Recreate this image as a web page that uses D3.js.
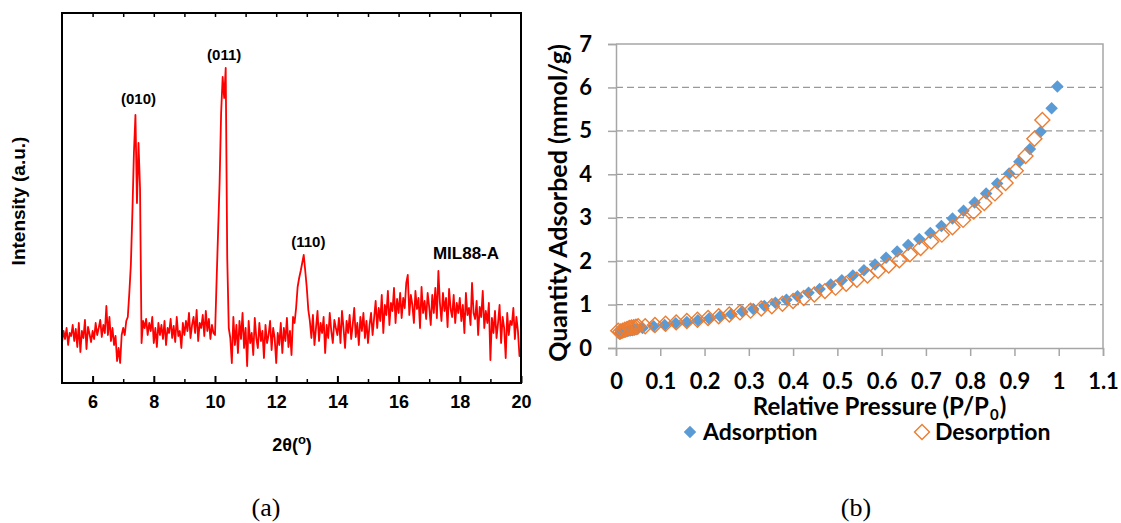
<!DOCTYPE html>
<html>
<head>
<meta charset="utf-8">
<script src="https://cdn.jsdelivr.net/npm/d3@7"></script>
<style>
  body { margin: 0; background: #fff; }
  svg { display: block; }
</style>
</head>
<body>
<svg id="chart" width="1121" height="523"></svg>
<script>
// ---- (a) XRD pattern, scan 5..20 deg, 0.05 deg steps ----
const xrdStart = 5;
const xrdStep = 0.05;
const xrdIntensity = [
    40, 52, 44, 55, 38, 50, 47, 58, 42, 54, 36, 60, 31, 52, 45, 63, 34, 56, 49, 41,
    52, 44, 60, 48, 55, 63, 46, 58, 50, 77, 48, 66, 42, 55, 38, 47, 22, 35, 20, 48,
    55, 48, 62, 66, 90, 118, 170, 230, 268, 180, 240, 195, 40, 62, 55, 64, 48, 60, 52, 66,
    40, 55, 36, 60, 48, 58, 44, 62, 38, 55, 50, 64, 45, 57, 41, 66, 47, 52, 35, 60,
    48, 62, 52, 70, 45, 58, 66, 50, 73, 42, 60, 55, 68, 47, 72, 52, 64, 44, 58, 50,
    48, 100, 150, 200, 270, 306, 285, 315, 125, 55, 45, 20, 66, 38, 58, 30, 62, 44, 70, 35,
    55, 17, 62, 40, 50, 28, 65, 45, 35, 60, 42, 52, 25, 58, 40, 48, 62, 33, 55, 45,
    20, 50, 38, 60, 30, 55, 42, 65, 36, 52, 28, 66, 60, 75, 96, 105, 112, 120, 128, 112,
    95, 73, 62, 45, 68, 38, 55, 72, 42, 60, 50, 66, 30, 58, 45, 70, 52, 40, 63, 55,
    48, 65, 40, 72, 55, 35, 62, 50, 68, 44, 58, 75, 46, 60, 38, 66, 52, 70, 45, 62,
    40, 58, 70, 48, 65, 82, 55, 75, 62, 88, 50, 78, 68, 92, 58, 80, 72, 95, 60, 84,
    70, 90, 65, 85, 75, 100, 108, 68, 88, 78, 60, 92, 74, 85, 55, 96, 70, 82, 64, 90,
    76, 58, 88, 70, 95, 65, 112, 80, 62, 90, 72, 85, 56, 94, 74, 66, 88, 60, 80, 70,
    85, 62, 78, 50, 90, 68, 75, 58, 100, 70, 64, 82, 48, 76, 66, 92, 55, 72, 60, 80,
    23, 65, 50, 72, 45, 60, 78, 40, 66, 55, 25, 70, 48, 62, 58, 75, 44, 66, 52, 27,
    30
];
const xrdTicks = [6, 8, 10, 12, 14, 16, 18, 20];
const peakNames = ["(010)", "(011)", "(110)"];
const peakAngles = [7.5, 10.3, 13.05];
const peakTops = [268, 315, 128];

// ---- (b) N2 isotherm ----
const adsP = [0.008, 0.012, 0.017, 0.022, 0.027, 0.032, 0.037, 0.042, 0.047, 0.06,
    0.085, 0.11, 0.135, 0.16, 0.185, 0.21, 0.235, 0.26, 0.285, 0.31,
    0.335, 0.36, 0.385, 0.41, 0.435, 0.46, 0.485, 0.51, 0.535, 0.56,
    0.585, 0.61, 0.635, 0.66, 0.685, 0.71, 0.735, 0.76, 0.785, 0.81,
    0.836, 0.861, 0.888, 0.911, 0.935, 0.959, 0.984, 0.997];
const adsQ = [0.33, 0.35, 0.37, 0.38, 0.39, 0.40, 0.41, 0.42, 0.43, 0.46,
    0.50, 0.53, 0.57, 0.60, 0.64, 0.68, 0.73, 0.78, 0.84, 0.90,
    0.97, 1.04, 1.11, 1.19, 1.27, 1.36, 1.46, 1.56, 1.67, 1.79,
    1.92, 2.08, 2.22, 2.37, 2.51, 2.65, 2.81, 2.98, 3.16, 3.35,
    3.56, 3.79, 4.02, 4.29, 4.58, 4.98, 5.52, 6.02];
const desP = [0.963, 0.945, 0.925, 0.903, 0.880, 0.856, 0.832, 0.808, 0.784, 0.760,
    0.736, 0.712, 0.688, 0.664, 0.640, 0.616, 0.592, 0.568, 0.544, 0.520,
    0.496, 0.472, 0.448, 0.424, 0.400, 0.376, 0.352, 0.328, 0.304, 0.280,
    0.256, 0.232, 0.208, 0.184, 0.160, 0.136, 0.112, 0.088, 0.066, 0.050,
    0.045, 0.040, 0.035, 0.030, 0.025, 0.020, 0.015, 0.010, 0.005];
const desQ = [5.25, 4.82, 4.42, 4.08, 3.80, 3.56, 3.34, 3.14, 2.95, 2.78,
    2.61, 2.45, 2.30, 2.16, 2.02, 1.90, 1.78, 1.67, 1.57, 1.48,
    1.39, 1.31, 1.23, 1.15, 1.08, 1.02, 0.96, 0.91, 0.86, 0.82,
    0.77, 0.73, 0.69, 0.65, 0.62, 0.59, 0.56, 0.53, 0.50, 0.50,
    0.49, 0.48, 0.47, 0.46, 0.44, 0.42, 0.40, 0.38, 0.40];
const isoYTicks = [0, 1, 2, 3, 4, 5, 6, 7];
const isoXTicks = [0, 0.1, 0.2, 0.3, 0.4, 0.5, 0.6, 0.7, 0.8, 0.9, 1, 1.1];
const seriesNames = ["Adsorption", "Desorption"];

const svg = d3.select("#chart");
const arial = "'Liberation Sans', Arial, sans-serif";
const calibri = "Lato, 'Open Sans', sans-serif";

/* ================= panel (a) ================= */
const xa = d3.scaleLinear().domain([5, 20]).range([62, 521]);
const ya = d3.scaleLinear().domain([0, 370]).range([383, 13]);

const pa = svg.append("g");

const xrd = xrdIntensity.map((v, i) => ({t: xrdStart + i * xrdStep, v: v}));

pa.append("path")
    .datum(xrd)
    .attr("fill", "none")
    .attr("stroke", "#ff0000")
    .attr("stroke-width", 1.8)
    .attr("stroke-linejoin", "round")
    .attr("d", d3.line().x(d => xa(d.t)).y(d => ya(d.v)));

pa.append("rect")
    .attr("x", xa(5)).attr("y", ya(370))
    .attr("width", xa(20) - xa(5)).attr("height", ya(0) - ya(370))
    .attr("fill", "none").attr("stroke", "#000").attr("stroke-width", 2);

// bottom ticks, pointing inward
const xAxisA = pa.append("g")
    .attr("transform", `translate(0,${ya(0)})`)
    .call(d3.axisBottom(xa).tickValues(xrdTicks).tickSize(-7).tickPadding(12).tickFormat(d3.format("d")));
xAxisA.select(".domain").remove();
xAxisA.selectAll("line").attr("stroke", "#000").attr("stroke-width", 2);
xAxisA.selectAll("text")
    .attr("font-family", arial).attr("font-size", 18).attr("font-weight", "bold").attr("fill", "#000");

const minorA = pa.append("g")
    .attr("transform", `translate(0,${ya(0)})`)
    .call(d3.axisBottom(xa).tickValues([7, 9, 11, 13, 15, 17, 19]).tickSize(-4).tickFormat(""));
minorA.select(".domain").remove();
minorA.selectAll("line").attr("stroke", "#000").attr("stroke-width", 1.5);

const topA = pa.append("g")
    .attr("transform", `translate(0,${ya(370)})`)
    .call(d3.axisTop(xa).tickValues(d3.range(6, 20)).tickSize(-4).tickFormat(""));
topA.select(".domain").remove();
topA.selectAll("line").attr("stroke", "#000").attr("stroke-width", 1.5);

// peak labels
pa.selectAll(".peak")
    .data(peakNames)
    .enter().append("text")
    .attr("x", (d, i) => xa(peakAngles[i]))
    .attr("y", (d, i) => ya(peakTops[i]) - (i === 0 ? 11 : 8))
    .attr("text-anchor", "middle")
    .attr("font-family", arial).attr("font-size", 15).attr("font-weight", "bold")
    .text(d => d);

pa.append("text")
    .attr("x", 466).attr("y", 259)
    .attr("text-anchor", "middle")
    .attr("font-family", arial).attr("font-size", 17).attr("font-weight", "bold")
    .text("MIL88-A");

pa.append("text")
    .attr("transform", "translate(25,201) rotate(-90)")
    .attr("text-anchor", "middle")
    .attr("font-family", arial).attr("font-size", 19).attr("font-weight", "bold")
    .text("Intensity (a.u.)");

const t2 = pa.append("text")
    .attr("x", 292).attr("y", 451)
    .attr("text-anchor", "middle")
    .attr("font-family", arial).attr("font-size", 18).attr("font-weight", "bold");
t2.append("tspan").text("2θ(");
t2.append("tspan").attr("font-size", 13).attr("dy", -7).text("o");
t2.append("tspan").attr("dy", 7).text(")");

/* ================= panel (b) ================= */
const xb = d3.scaleLinear().domain([0, 1.1]).range([616, 1103]);
const yb = d3.scaleLinear().domain([0, 7]).range([348, 44]);
const gray = "#a6a6a6";

const pb = svg.append("g");

pb.selectAll(".grid")
    .data(isoYTicks.filter(d => d > 0 && d < 7))
    .enter().append("line")
    .attr("x1", xb(0)).attr("x2", xb(1.1))
    .attr("y1", d => yb(d)).attr("y2", d => yb(d))
    .attr("stroke", "#999").attr("stroke-width", 1.3).attr("stroke-dasharray", "7,4");

// plot border (top and right)
pb.append("path")
    .attr("d", `M${xb(0)},${yb(7)}H${xb(1.1)}V${yb(0)}`)
    .attr("fill", "none").attr("stroke", gray).attr("stroke-width", 1.5);

const yAxisB = pb.append("g")
    .attr("transform", `translate(${xb(0)},0)`)
    .call(d3.axisLeft(yb).tickValues(isoYTicks).tickSize(8).tickPadding(16).tickFormat(d3.format("d")));
const xAxisB = pb.append("g")
    .attr("transform", `translate(0,${yb(0)})`)
    .call(d3.axisBottom(xb).tickValues(isoXTicks).tickSize(8).tickPadding(17).tickFormat(d => String(+d.toFixed(1))));
[yAxisB, xAxisB].forEach(ax => {
    ax.select(".domain").attr("stroke", gray).attr("stroke-width", 1.5);
    ax.selectAll("line").attr("stroke", gray).attr("stroke-width", 1.5);
    ax.selectAll("text")
        .attr("font-family", calibri).attr("font-size", 22).attr("font-weight", "bold").attr("fill", "#000");
});

const diamond = size => d3.symbol().type(d3.symbolSquare).size(size)();

pb.selectAll(".ads")
    .data(adsP)
    .enter().append("path")
    .attr("d", diamond(78))
    .attr("transform", (d, i) => `translate(${xb(d)},${yb(adsQ[i])}) rotate(45)`)
    .attr("fill", "#5b9bd5");

pb.selectAll(".des")
    .data(desP)
    .enter().append("path")
    .attr("d", diamond(112))
    .attr("transform", (d, i) => `translate(${xb(d)},${yb(desQ[i])}) rotate(45)`)
    .attr("fill", "none")
    .attr("stroke", "#ed7d31").attr("stroke-width", 1.4);

// x title, the subscript is its own text so nothing overlaps
const titleParts = [
    {s: "Relative Pressure (P/P", size: 24, dy: 0},
    {s: "0", size: 15, dy: 5},
    {s: ")", size: 24, dy: 0}
];
const tg = pb.append("g");
const tparts = tg.selectAll("text")
    .data(titleParts)
    .enter().append("text")
    .attr("y", d => 415 + d.dy)
    .attr("font-family", calibri).attr("font-size", d => d.size).attr("font-weight", "bold")
    .text(d => d.s);
let cursor = 0;
tparts.each(function () {
    d3.select(this).attr("x", cursor);
    cursor += this.getComputedTextLength() + 1;
});
tg.attr("transform", `translate(${880 - cursor / 2},0)`);

pb.append("text")
    .attr("transform", "translate(567,203) rotate(-90)")
    .attr("text-anchor", "middle")
    .attr("font-family", calibri).attr("font-size", 25).attr("font-weight", "bold")
    .text("Quantity Adsorbed (mmol/g)");

// legend
const legendX = [690, 922];
const leg = pb.selectAll(".leg")
    .data(seriesNames)
    .enter().append("g")
    .attr("transform", (d, i) => `translate(${legendX[i]},432)`);
leg.append("path")
    .attr("d", (d, i) => diamond(i === 0 ? 78 : 112))
    .attr("transform", "rotate(45)")
    .attr("fill", (d, i) => i === 0 ? "#5b9bd5" : "none")
    .attr("stroke", (d, i) => i === 0 ? "none" : "#ed7d31")
    .attr("stroke-width", 1.4);
leg.append("text")
    .attr("x", 13).attr("y", 8)
    .attr("font-family", calibri).attr("font-size", 23).attr("font-weight", "bold")
    .text(d => d);

/* captions */
svg.selectAll(".cap")
    .data(["(a)", "(b)"])
    .enter().append("text")
    .attr("x", (d, i) => i === 0 ? 266 : 856)
    .attr("y", 516)
    .attr("text-anchor", "middle")
    .attr("font-family", "'Liberation Serif', 'Times New Roman', serif")
    .attr("font-size", 26)
    .text(d => d);
</script>
</body>
</html>
